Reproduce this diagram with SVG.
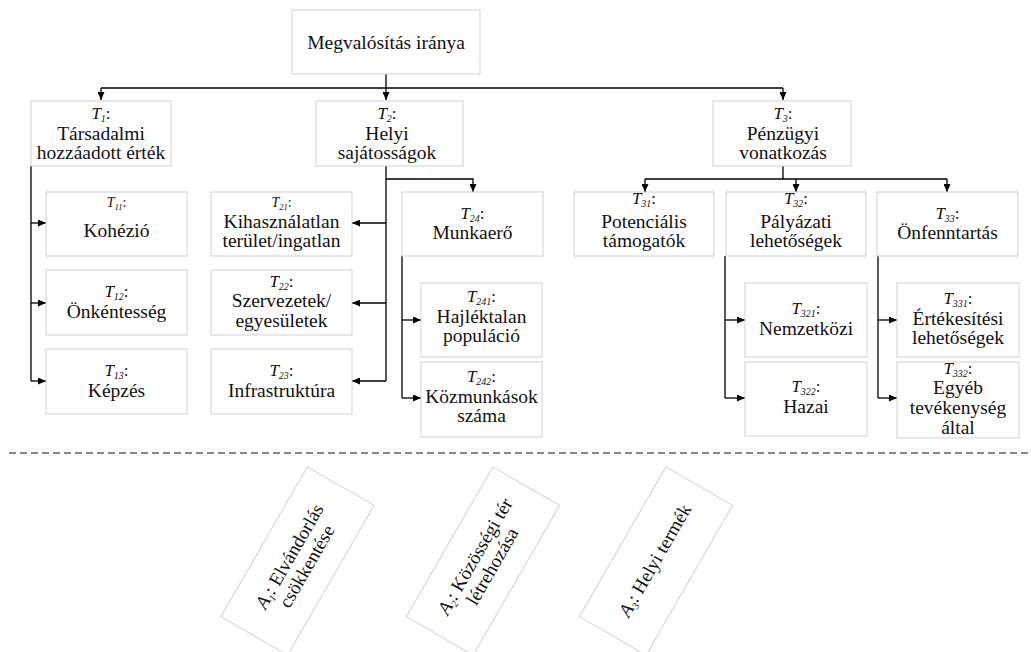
<svg xmlns="http://www.w3.org/2000/svg" width="1031" height="652" viewBox="0 0 1031 652">
<style>
  .box { fill: #ffffff; stroke: #d2d2d2; stroke-width: 1; }
  .t { font-family: "Liberation Serif", "Times New Roman", serif; font-size: 19.5px; fill: #111; text-anchor: middle; }
  .lb { font-size: 17px; }
  .lbs { font-size: 14px; }
  .i { font-style: italic; }
  .sub { font-size: 10px; font-style: italic; }
  .subs { font-size: 8.5px; font-style: italic; }
  .ln { fill: none; stroke: #000; stroke-width: 1.3; }
  .arr { fill: none; stroke: #000; stroke-width: 1.3; marker-end: url(#ah); }
  .dash { stroke: #111; stroke-width: 1; stroke-dasharray: 7 4; }
  .at { font-family: "Liberation Serif", "Times New Roman", serif; font-size: 19px; fill: #111; text-anchor: middle; }
</style>
<defs>
  <marker id="ah" viewBox="0 0 8 7" refX="8" refY="3.5" markerWidth="8" markerHeight="7" markerUnits="userSpaceOnUse" orient="auto">
    <path d="M0,0 L8,3.5 L0,7 z" fill="#000"/>
  </marker>
</defs>
<rect width="1031" height="652" fill="#ffffff"/>

<g id="connectors">
  <line class="arr" x1="386" y1="74" x2="386" y2="100"/>
  <line class="ln" x1="101" y1="88" x2="783" y2="88"/>
  <line class="arr" x1="101" y1="88" x2="101" y2="100"/>
  <line class="arr" x1="783" y1="88" x2="783" y2="100"/>
  <line class="ln" x1="31" y1="166" x2="31" y2="381"/>
  <line class="arr" x1="31" y1="223" x2="46" y2="223"/>
  <line class="arr" x1="31" y1="303" x2="46" y2="303"/>
  <line class="arr" x1="31" y1="381" x2="46" y2="381"/>
  <line class="ln" x1="386" y1="166" x2="386" y2="381"/>
  <line class="arr" x1="386" y1="223" x2="352" y2="223"/>
  <line class="arr" x1="386" y1="303" x2="352" y2="303"/>
  <line class="arr" x1="386" y1="381" x2="352" y2="381"/>
  <polyline class="arr" points="386,179 473,179 473,192"/>
  <line class="ln" x1="402" y1="256" x2="402" y2="398"/>
  <line class="arr" x1="402" y1="320" x2="421" y2="320"/>
  <line class="arr" x1="402" y1="398" x2="421" y2="398"/>
  <line class="ln" x1="783" y1="166" x2="783" y2="179"/>
  <line class="ln" x1="645" y1="179" x2="947" y2="179"/>
  <line class="arr" x1="645" y1="179" x2="645" y2="192"/>
  <line class="arr" x1="796" y1="179" x2="796" y2="192"/>
  <line class="arr" x1="947" y1="179" x2="947" y2="192"/>
  <line class="ln" x1="725" y1="256" x2="725" y2="398"/>
  <line class="arr" x1="725" y1="320" x2="745" y2="320"/>
  <line class="arr" x1="725" y1="398" x2="745" y2="398"/>
  <line class="ln" x1="878" y1="256" x2="878" y2="398"/>
  <line class="arr" x1="878" y1="320" x2="897" y2="320"/>
  <line class="arr" x1="878" y1="398" x2="897" y2="398"/>
</g>

<g id="root">
  <rect class="box" x="292" y="10" width="188" height="64"/>
  <text class="t" x="386" y="49">Megvalósítás iránya</text>
</g>

<g id="T1">
  <rect class="box" x="31" y="101" width="140" height="65"/>
  <text class="t lb" x="101" y="119"><tspan class="i">T</tspan><tspan class="sub" dy="3">1</tspan><tspan dy="-3">:</tspan></text>
  <text class="t" x="101" y="139.5">Társadalmi</text>
  <text class="t" x="101" y="159">hozzáadott érték</text>
</g>
<g id="T2">
  <rect class="box" x="316" y="101" width="147" height="65"/>
  <text class="t lb" x="387" y="119"><tspan class="i">T</tspan><tspan class="sub" dy="3">2</tspan><tspan dy="-3">:</tspan></text>
  <text class="t" x="387" y="139.5">Helyi</text>
  <text class="t" x="387" y="159">sajátosságok</text>
</g>
<g id="T3">
  <rect class="box" x="713" y="101" width="138" height="65"/>
  <text class="t lb" x="783" y="119"><tspan class="i">T</tspan><tspan class="sub" dy="3">3</tspan><tspan dy="-3">:</tspan></text>
  <text class="t" x="783" y="139.5">Pénzügyi</text>
  <text class="t" x="783" y="159">vonatkozás</text>
</g>

<g id="T11">
  <rect class="box" x="46" y="192" width="141" height="64"/>
  <text class="t lbs" x="116.5" y="207"><tspan class="i">T</tspan><tspan class="subs" dy="2.5">11</tspan><tspan dy="-2.5">:</tspan></text>
  <text class="t" x="116.5" y="237">Kohézió</text>
</g>
<g id="T12">
  <rect class="box" x="46" y="270" width="141" height="65"/>
  <text class="t lb" x="116.5" y="297"><tspan class="i">T</tspan><tspan class="sub" dy="3">12</tspan><tspan dy="-3">:</tspan></text>
  <text class="t" x="116.5" y="317.5">Önkéntesség</text>
</g>
<g id="T13">
  <rect class="box" x="46" y="349" width="141" height="65"/>
  <text class="t lb" x="116.5" y="376"><tspan class="i">T</tspan><tspan class="sub" dy="3">13</tspan><tspan dy="-3">:</tspan></text>
  <text class="t" x="116.5" y="397">Képzés</text>
</g>

<g id="T21">
  <rect class="box" x="211" y="192" width="141" height="64"/>
  <text class="t lbs" x="281.5" y="207"><tspan class="i">T</tspan><tspan class="subs" dy="2.5">21</tspan><tspan dy="-2.5">:</tspan></text>
  <text class="t" x="281.5" y="228">Kihasználatlan</text>
  <text class="t" x="281.5" y="247">terület/ingatlan</text>
</g>
<g id="T22">
  <rect class="box" x="211" y="270" width="141" height="65"/>
  <text class="t lb" x="281.5" y="287"><tspan class="i">T</tspan><tspan class="sub" dy="3">22</tspan><tspan dy="-3">:</tspan></text>
  <text class="t" x="281.5" y="307">Szervezetek/</text>
  <text class="t" x="281.5" y="326.5">egyesületek</text>
</g>
<g id="T23">
  <rect class="box" x="211" y="349" width="141" height="65"/>
  <text class="t lb" x="281.5" y="376"><tspan class="i">T</tspan><tspan class="sub" dy="3">23</tspan><tspan dy="-3">:</tspan></text>
  <text class="t" x="281.5" y="397">Infrastruktúra</text>
</g>

<g id="T24">
  <rect class="box" x="402" y="192" width="141" height="64"/>
  <text class="t lb" x="472.5" y="219"><tspan class="i">T</tspan><tspan class="sub" dy="3">24</tspan><tspan dy="-3">:</tspan></text>
  <text class="t" x="472.5" y="239">Munkaerő</text>
</g>
<g id="T241">
  <rect class="box" x="421" y="283" width="121" height="74"/>
  <text class="t lb" x="481.5" y="302"><tspan class="i">T</tspan><tspan class="sub" dy="3">241</tspan><tspan dy="-3">:</tspan></text>
  <text class="t" x="481.5" y="322.5">Hajléktalan</text>
  <text class="t" x="481.5" y="342">populáció</text>
</g>
<g id="T242">
  <rect class="box" x="421" y="362" width="121" height="75"/>
  <text class="t lb" x="481.5" y="382"><tspan class="i">T</tspan><tspan class="sub" dy="3">242</tspan><tspan dy="-3">:</tspan></text>
  <text class="t" x="481.5" y="402.5">Közmunkások</text>
  <text class="t" x="481.5" y="422">száma</text>
</g>

<g id="T31">
  <rect class="box" x="574" y="192" width="140" height="64"/>
  <text class="t lb" x="644" y="204"><tspan class="i">T</tspan><tspan class="sub" dy="3">31</tspan><tspan dy="-3">:</tspan></text>
  <text class="t" x="644" y="227.5">Potenciális</text>
  <text class="t" x="644" y="247">támogatók</text>
</g>
<g id="T32">
  <rect class="box" x="726" y="192" width="140" height="64"/>
  <text class="t lb" x="796" y="204"><tspan class="i">T</tspan><tspan class="sub" dy="3">32</tspan><tspan dy="-3">:</tspan></text>
  <text class="t" x="796" y="227.5">Pályázati</text>
  <text class="t" x="796" y="247">lehetőségek</text>
</g>
<g id="T33">
  <rect class="box" x="877" y="192" width="141" height="64"/>
  <text class="t lb" x="947.5" y="219"><tspan class="i">T</tspan><tspan class="sub" dy="3">33</tspan><tspan dy="-3">:</tspan></text>
  <text class="t" x="947.5" y="239">Önfenntartás</text>
</g>

<g id="T321">
  <rect class="box" x="745" y="283" width="122" height="74"/>
  <text class="t lb" x="806" y="314"><tspan class="i">T</tspan><tspan class="sub" dy="3">321</tspan><tspan dy="-3">:</tspan></text>
  <text class="t" x="806" y="335">Nemzetközi</text>
</g>
<g id="T322">
  <rect class="box" x="745" y="362" width="122" height="74"/>
  <text class="t lb" x="806" y="392"><tspan class="i">T</tspan><tspan class="sub" dy="3">322</tspan><tspan dy="-3">:</tspan></text>
  <text class="t" x="806" y="413">Hazai</text>
</g>
<g id="T331">
  <rect class="box" x="897" y="283" width="122" height="74"/>
  <text class="t lb" x="958" y="304"><tspan class="i">T</tspan><tspan class="sub" dy="3">331</tspan><tspan dy="-3">:</tspan></text>
  <text class="t" x="958" y="324.5">Értékesítési</text>
  <text class="t" x="958" y="344">lehetőségek</text>
</g>
<g id="T332">
  <rect class="box" x="897" y="362" width="122" height="76"/>
  <text class="t lb" x="958" y="374"><tspan class="i">T</tspan><tspan class="sub" dy="3">332</tspan><tspan dy="-3">:</tspan></text>
  <text class="t" x="958" y="394">Egyéb</text>
  <text class="t" x="958" y="413.5">tevékenység</text>
  <text class="t" x="958" y="433.5">által</text>
</g>

<line class="dash" x1="9" y1="453" x2="1031" y2="453"/>

<g id="A1" transform="translate(297.5,561) rotate(-60)">
  <rect class="box" x="-86.5" y="-38.5" width="173" height="77"/>
  <text class="at" x="0" y="-3"><tspan class="i">A</tspan><tspan class="sub" dy="3">1</tspan><tspan dy="-3">: Elvándorlás</tspan></text>
  <text class="at" x="0" y="17">csökkentése</text>
</g>
<g id="A2" transform="translate(483,561) rotate(-60)">
  <rect class="box" x="-86.5" y="-38.5" width="173" height="77"/>
  <text class="at" x="0" y="-3"><tspan class="i">A</tspan><tspan class="sub" dy="3">2</tspan><tspan dy="-3">: Közösségi tér</tspan></text>
  <text class="at" x="0" y="17">létrehozása</text>
</g>
<g id="A3" transform="translate(656,561) rotate(-60)">
  <rect class="box" x="-86.5" y="-38.5" width="173" height="77"/>
  <text class="at" x="0" y="5"><tspan class="i">A</tspan><tspan class="sub" dy="3">3</tspan><tspan dy="-3">: Helyi termék</tspan></text>
</g>
</svg>
